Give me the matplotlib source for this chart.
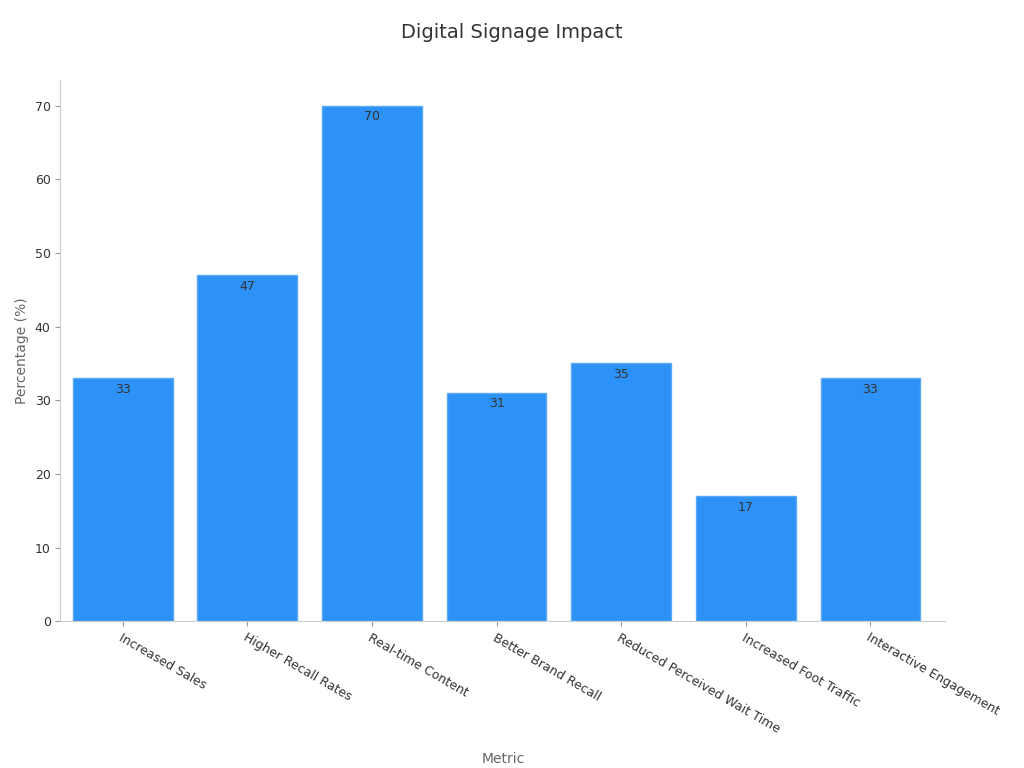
import matplotlib
matplotlib.use("Agg")
import matplotlib.pyplot as plt

categories = ["Increased Sales", "Higher Recall Rates", "Real-time Content", "Better Brand Recall",
              "Reduced Perceived Wait Time", "Increased Foot Traffic", "Interactive Engagement"]
values = [33, 47, 70, 31, 35, 17, 33]
yticks = [0, 10, 20, 30, 40, 50, 60, 70]

plt.rcParams['font.family'] = ['DejaVu Sans']
fig = plt.figure(figsize=(10.24, 7.68), dpi=100)
ax = fig.add_axes([0.059, 0.191, 0.864, 0.705])
bars = ax.bar(range(len(values)), values, width=0.8, color='#2d92f7', edgecolor='#5aa9f5', linewidth=1)
for i, v in enumerate(values):
    ax.text(i, v - 0.6, str(v), ha='center', va='top', fontsize=9, color='#333333')
ax.set_xlim(-0.5, len(values) - 0.4)
ax.set_ylim(0, 73.5)
ax.set_yticks(yticks)
ax.set_xticks(range(len(values)))
ax.set_xticklabels(categories, rotation=-30, ha='left', rotation_mode='anchor', fontsize=9)
ax.tick_params(axis='y', labelsize=9)
for s in ['top', 'right']:
    ax.spines[s].set_visible(False)
for s in ['left', 'bottom']:
    ax.spines[s].set_color('#cccccc')
ax.tick_params(colors='#333333')
ax.tick_params(axis='both', color='#999999')
ax.set_xlabel('Metric', fontsize=10, color='#666666', labelpad=12)
ax.set_ylabel('Percentage (%)', fontsize=10, color='#666666')
fig.suptitle('Digital Signage Impact', y=0.97, fontsize=14, color='#333333')
fig.savefig('out.png', dpi=100)
